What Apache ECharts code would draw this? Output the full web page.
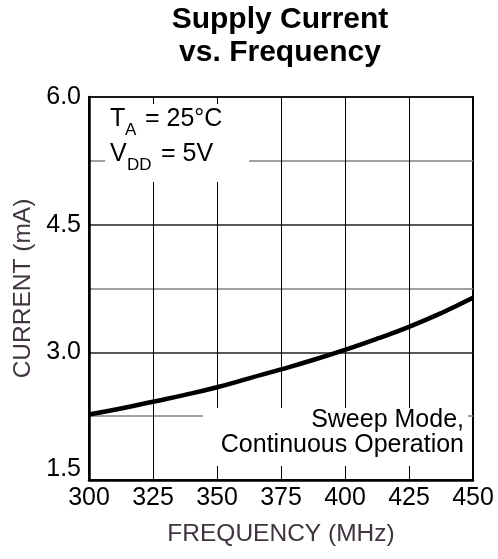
<!DOCTYPE html>
<html>
<head>
<meta charset="utf-8">
<script src="https://cdn.jsdelivr.net/npm/echarts@6/dist/echarts.min.js"></script>
<style>
html,body{margin:0;padding:0;background:#fff;}
#chart{width:498px;height:559px;}
</style>
</head>
<body>
<div id="chart"></div>
<script>
// Data
const frequencyMHz = [300, 312.5, 325, 337.5, 350, 362.5, 375, 387.5, 400, 412.5, 425, 437.5, 450];
const currentMA = [2.27, 2.34, 2.42, 2.50, 2.59, 2.695, 2.80, 2.91, 3.03, 3.16, 3.30, 3.46, 3.64];
const yTickLabels = ['1.5', '3.0', '4.5', '6.0'];
const xTickLabels = ['300', '325', '350', '375', '400', '425', '450'];

const FONT = '"Liberation Sans", Arial, Helvetica, sans-serif';
const chart = echarts.init(document.getElementById('chart'));

const option = {
  backgroundColor: '#fff',
  animation: false,
  grid: {
    left: 89, right: 25, top: 97, bottom: 79,
    show: true, borderColor: '#000', borderWidth: 2, backgroundColor: 'transparent'
  },
  xAxis: {
    type: 'value', min: 300, max: 450, interval: 25,
    name: 'FREQUENCY (MHz)', nameLocation: 'middle', nameGap: 42,
    nameTextStyle: { fontFamily: FONT, fontSize: 24.5, color: '#3f3440' },
    axisLine: { show: true, onZero: false, lineStyle: { color: '#000', width: 2.5 } },
    axisTick: { show: false },
    axisLabel: {
      margin: 6, fontFamily: FONT, fontSize: 25, color: '#000',
      formatter: v => { const s = String(Math.round(v)); return xTickLabels.includes(s) ? s : ''; }
    },
    splitLine: { show: true, lineStyle: { color: '#000', width: 1 } }
  },
  yAxis: {
    type: 'value', min: 1.5, max: 6.0, interval: 0.75,
    name: 'CURRENT (mA)', nameLocation: 'middle', nameGap: 53, nameRotate: 90,
    nameTextStyle: { fontFamily: FONT, fontSize: 24.5, color: '#3f3440' },
    axisLine: { show: true, onZero: false, lineStyle: { color: '#000', width: 2.5 } },
    axisTick: { show: false },
    axisLabel: {
      margin: 8, fontFamily: FONT, fontSize: 25, color: '#000',
      formatter: v => {
        const s = v.toFixed(1);
        const ok = yTickLabels.includes(s) && Math.abs(v * 2 / 3 - Math.round(v * 2 / 3)) < 1e-6;
        if (!ok) return '';
        return s === yTickLabels[0] ? '{low|' + s + '}' : s;
      },
      rich: { low: { fontFamily: FONT, fontSize: 25, color: '#000', padding: [0, 0, 22, 0] } }
    },
    splitLine: { show: true, lineStyle: { color: ['#222', '#808080'], width: 1.5 } }
  },
  series: [{
    type: 'line',
    data: frequencyMHz.map((f, i) => [f, currentMA[i]]),
    smooth: 0.5,
    showSymbol: false,
    lineStyle: { color: '#000', width: 4.5 },
    z: 5
  }],
  graphic: [
    { type: 'text', z: 100, x: 280, y: 3,
      style: { text: 'Supply Current\nvs. Frequency', fontFamily: FONT, fontWeight: 'bold', fontSize: 30,
               lineHeight: 33, fill: '#000', align: 'center', verticalAlign: 'top' } },
    // white label box top-left
    { type: 'rect', z: 50, shape: { x: 105, y: 104, width: 144, height: 78 }, style: { fill: '#fff' } },
    { type: 'text', z: 100, x: 110, y: 119, style: { text: 'T', fontFamily: FONT, fontSize: 25, fill: '#000', verticalAlign: 'middle' } },
    { type: 'text', z: 100, x: 125, y: 130, style: { text: 'A', fontFamily: FONT, fontSize: 17, fill: '#000', verticalAlign: 'middle' } },
    { type: 'text', z: 100, x: 145, y: 119, style: { text: '= 25°C', fontFamily: FONT, fontSize: 25, fill: '#000', verticalAlign: 'middle' } },
    { type: 'text', z: 100, x: 110, y: 154, style: { text: 'V', fontFamily: FONT, fontSize: 25, fill: '#000', verticalAlign: 'middle' } },
    { type: 'text', z: 100, x: 127, y: 165, style: { text: 'DD', fontFamily: FONT, fontSize: 17, fill: '#000', verticalAlign: 'middle' } },
    { type: 'text', z: 100, x: 161, y: 154, style: { text: '= 5V', fontFamily: FONT, fontSize: 25, fill: '#000', verticalAlign: 'middle' } },
    // white label box bottom-right
    { type: 'rect', z: 50, shape: { x: 203, y: 408, width: 265, height: 58 }, style: { fill: '#fff' } },
    { type: 'text', z: 100, x: 464, y: 420, style: { text: 'Sweep Mode,', fontFamily: FONT, fontSize: 25, fill: '#000', align: 'right', verticalAlign: 'middle' } },
    { type: 'text', z: 100, x: 464, y: 445, style: { text: 'Continuous Operation', fontFamily: FONT, fontSize: 25, fill: '#000', align: 'right', verticalAlign: 'middle' } }
  ]
};
chart.setOption(option);
</script>
</body>
</html>
